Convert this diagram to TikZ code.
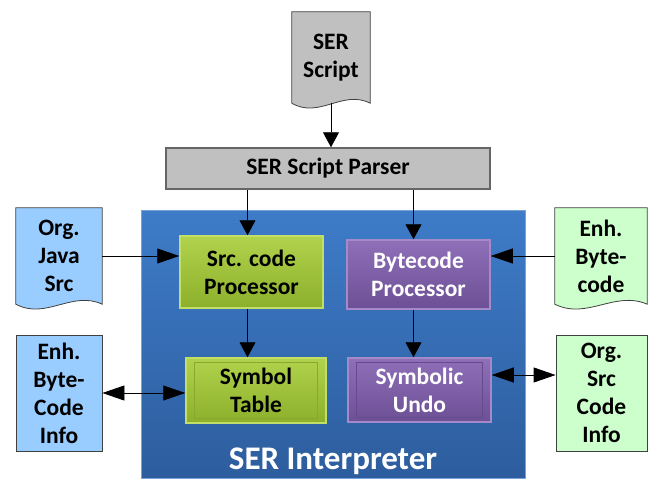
\documentclass[tikz,border=0pt]{standalone}
\usepackage{fontspec}
\setmainfont{Carlito}
\usetikzlibrary{arrows.meta,calc,backgrounds}
\definecolor{sergray}{HTML}{C0C0C0}
\definecolor{docblue}{HTML}{99CCFF}
\definecolor{docgreen}{HTML}{CCFFCC}
\definecolor{intertop}{HTML}{3E7CC8}
\definecolor{interbot}{HTML}{2D5D9E}
\definecolor{greentop}{HTML}{B0D24C}
\definecolor{greenbot}{HTML}{8DB02C}
\definecolor{greenline}{HTML}{C2DE66}
\definecolor{greendark}{HTML}{8AA830}
\definecolor{purptop}{HTML}{8F70B8}
\definecolor{purpbot}{HTML}{6D4F96}
\definecolor{purpline}{HTML}{A48AC8}
\definecolor{purpdark}{HTML}{654A8E}
\begin{document}
\begin{tikzpicture}[x=1pt,y=-1pt,
    font=\bfseries\fontsize{23.5}{28}\selectfont,
    box/.style={rectangle,align=center,inner sep=0pt},
    infobox/.style={box,draw=black!75,line width=0.8pt},
    gbox/.style={box,top color=greentop,bottom color=greenbot,draw=greenline,line width=1.5pt},
    pbox/.style={box,top color=purptop,bottom color=purpbot,draw=purpline,line width=1.5pt,text=white},
    varrow/.style={-{Triangle[length=15pt,width=16pt]}},
    harrow/.style={-{Triangle[length=22pt,width=15pt]}},
    hboth/.style={{Triangle[length=22pt,width=15pt]}-{Triangle[length=22pt,width=15pt]}}]
  \useasboundingbox (0,0) rectangle (651,487);
  \node[box,minimum width=78,minimum height=91] (script) at (331,57.5) {SER\\Script};
  \node[box,fill=sergray,draw=black!60,line width=1.5pt,minimum width=324,minimum height=41] (parser) at (328,168.5) {SER Script Parser};
  \node[box,top color=intertop,bottom color=interbot,draw=intertop!70!white,line width=0.6pt,minimum width=384,minimum height=268] (interp) at (333,344) {};
  \node[anchor=base,text=white,font=\bfseries\fontsize{33}{40}\selectfont] (title) at ([yshift=9pt]interp.south) {SER Interpreter};
  \node[gbox,minimum width=143,minimum height=72] (src) at (251.5,272) {Src. code\\Processor};
  \node[pbox,minimum width=143,minimum height=69] (byte) at (418.5,274.5) {Bytecode\\Processor};
  \node[gbox,minimum width=140,minimum height=65] (table) at (256,390.5) {Symbol\\Table};
  \node[pbox,minimum width=143,minimum height=64] (undo) at (419.5,390) {Symbolic\\Undo};
  \node[box,minimum width=86,minimum height=96] (javasrc) at (59,256) {Org.\\Java\\Src};
  \node[box,minimum width=92,minimum height=96] (enhbyte) at (601,256) {Enh.\\Byte-\\code};
  \node[infobox,fill=docblue,minimum width=86,minimum height=116] (bcinfo) at (59,393) {Enh.\\Byte-\\Code\\Info};
  \node[infobox,fill=docgreen,minimum width=91,minimum height=116] (srcinfo) at (601.5,393) {Org.\\Src\\Code\\Info};
  \begin{scope}[on background layer]
    \foreach \n/\c in {script/sergray,javasrc/docblue,enhbyte/docgreen}
      \draw[fill=\c,draw=black!75,line width=0.8pt] (\n.north west) -- (\n.north east) -- (\n.south east)
        .. controls ($(\n.south west)!0.65!(\n.south east)+(0pt,14pt)$) and ($(\n.south west)!0.35!(\n.south east)+(0pt,-16pt)$) .. (\n.south west) -- cycle;
  \end{scope}
  \foreach \n/\c in {table/greendark,undo/purpdark}
    \draw[\c,line width=1pt] ([shift={(9pt,-5pt)}]\n.north west) rectangle ([shift={(-9pt,5pt)}]\n.south east);
  \begin{scope}[line width=0.8pt]
    \draw[varrow] (script.south) -- (script.south |- parser.north);
    \draw[varrow] ([xshift=-4pt]src.north |- parser.south) -- ([xshift=-4pt]src.north);
    \draw[varrow] ([xshift=-5pt]byte.north |- parser.south) -- ([xshift=-5pt]byte.north);
    \draw[harrow] (javasrc.east) -- (javasrc.east -| src.west);
    \draw[harrow] (enhbyte.west) -- (enhbyte.west -| byte.east);
    \draw[varrow] ([xshift=-4pt]src.south) -- ([xshift=-4pt]src.south |- table.north);
    \draw[varrow] ([xshift=-5pt]byte.south) -- ([xshift=-5pt]byte.south |- undo.north);
    \draw[hboth] (bcinfo.east) -- (bcinfo.east -| table.west);
    \draw[hboth] ([yshift=15pt]undo.east) -- ([yshift=15pt]undo.east -| srcinfo.west);
  \end{scope}
\end{tikzpicture}
\end{document}
